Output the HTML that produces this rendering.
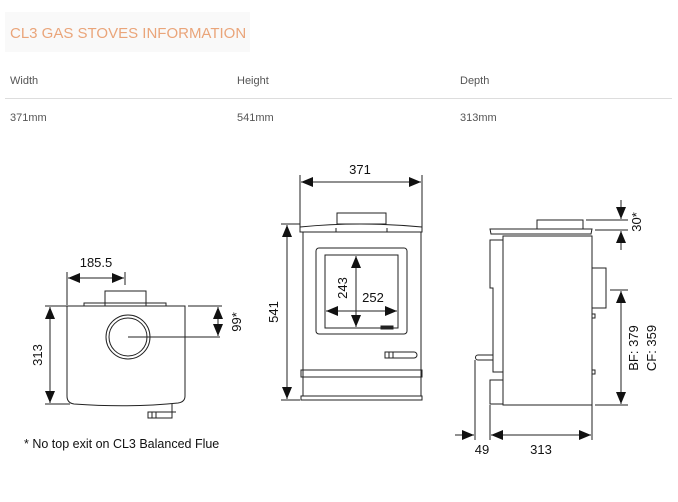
<!DOCTYPE html>
<html><head><meta charset="utf-8"><style>
body{margin:0;background:#fff;width:678px;height:502px;overflow:hidden;font-family:"Liberation Sans",sans-serif}
svg{position:absolute;left:0;top:0}
</style></head><body>
<svg width="678" height="502" viewBox="0 0 678 502" xmlns="http://www.w3.org/2000/svg">
<defs>
<marker id="a" viewBox="0 0 12 10" refX="12" refY="5" markerWidth="12" markerHeight="10" orient="auto-start-reverse" markerUnits="userSpaceOnUse"><path d="M0,0 L12,5 L0,10 z" fill="#111"/></marker>
</defs>
<rect x="5" y="12" width="245" height="40" fill="#f9f9f9"/>
<text x="10" y="38" font-size="15" fill="#eaa57a" font-family="Liberation Sans, sans-serif">CL3 GAS STOVES INFORMATION</text>
<g font-size="11" fill="#555">
<text x="10" y="84">Width</text><text x="237" y="84">Height</text><text x="460" y="84">Depth</text>
<text x="10" y="121">371mm</text><text x="237" y="121">541mm</text><text x="460" y="121">313mm</text>
</g>
<line x1="5" y1="98.5" x2="672" y2="98.5" stroke="#ddd"/>

<g fill="none" stroke="#222" stroke-width="1">
<line x1="67" y1="272" x2="67" y2="305"/><line x1="125" y1="272" x2="125" y2="285"/>
<line x1="68" y1="278" x2="124" y2="278" marker-start="url(#a)" marker-end="url(#a)"/>
<rect x="105" y="291" width="41" height="15"/>
<path d="M84 306 V303 H166 V306"/>
<path d="M67 306 H185 V396 Q185 402 178 403 Q130 408 74 404 Q67 403 67 396 Z"/>
<circle cx="128" cy="337" r="22"/><circle cx="128" cy="337" r="19"/>
<line x1="128" y1="337" x2="220" y2="337"/>
<line x1="188" y1="306" x2="222" y2="306"/>
<line x1="218" y1="307" x2="218" y2="336" marker-start="url(#a)" marker-end="url(#a)"/>
<line x1="45" y1="306" x2="67" y2="306"/><line x1="45" y1="404" x2="70" y2="404"/>
<line x1="50" y1="307" x2="50" y2="403" marker-start="url(#a)" marker-end="url(#a)"/>
<path d="M172 404 V418 H148 V412 H176"/><line x1="152" y1="412" x2="152" y2="418"/><line x1="156" y1="412" x2="156" y2="418"/>

<line x1="300" y1="175" x2="300" y2="232"/><line x1="422" y1="175" x2="422" y2="232"/>
<line x1="301" y1="182" x2="421" y2="182" marker-start="url(#a)" marker-end="url(#a)"/>
<rect x="337" y="213" width="49" height="11"/>
<path d="M300 232 V227 Q360 221 422 227 V232 Z"/>
<line x1="336" y1="228" x2="336" y2="232"/><line x1="387" y1="228" x2="387" y2="232"/>
<path d="M303 232 V396 H421 V232"/>
<rect x="316" y="248" width="91" height="86" rx="3"/>
<rect x="325" y="255" width="73" height="73"/>
<line x1="356" y1="256" x2="356" y2="327" marker-start="url(#a)" marker-end="url(#a)"/>
<line x1="326" y1="311" x2="397" y2="311" marker-start="url(#a)" marker-end="url(#a)"/>
<rect x="381" y="326" width="12" height="3" fill="#222"/>
<path d="M385 352 H414 A3 3 0 0 1 414 358 H385 Z"/><line x1="389" y1="352" x2="389" y2="358"/><line x1="393" y1="352" x2="393" y2="358"/>
<rect x="301" y="370" width="121" height="7"/>
<path d="M301 396 H422 V400 H301 Z"/>
<line x1="281" y1="224" x2="300" y2="224"/><line x1="281" y1="400" x2="300" y2="400"/>
<line x1="287" y1="225" x2="287" y2="399" marker-start="url(#a)" marker-end="url(#a)"/>

<rect x="537" y="220" width="46" height="9"/>
<path d="M490 229 H592 L591 234 H491 Z"/>
<rect x="503" y="236" width="89" height="169"/>
<path d="M503 240 H490 V288 H493 V372 H503"/>
<rect x="490" y="380" width="13" height="24"/>
<path d="M493 355 H478 A2.5 2.5 0 0 0 478 360 H493"/>
<rect x="592" y="268" width="14" height="40"/>
<path d="M592 314 h3 v4 h-3 M592 370 h3 v4 h-3"/>
<line x1="586" y1="220" x2="628" y2="220"/><line x1="595" y1="230" x2="628" y2="230"/>
<line x1="621" y1="200" x2="621" y2="219" marker-end="url(#a)"/>
<line x1="621" y1="250" x2="621" y2="231" marker-end="url(#a)"/>
<line x1="610" y1="290" x2="628" y2="290"/><line x1="595" y1="405" x2="628" y2="405"/>
<line x1="621" y1="291" x2="621" y2="404" marker-start="url(#a)" marker-end="url(#a)"/>
<line x1="475" y1="360" x2="475" y2="440"/><line x1="490" y1="405" x2="490" y2="440"/><line x1="592" y1="405" x2="592" y2="440"/>
<line x1="455" y1="435" x2="474" y2="435" marker-end="url(#a)"/>
<line x1="491" y1="435" x2="591" y2="435" marker-start="url(#a)" marker-end="url(#a)"/>
</g>

<g font-size="13" fill="#111" font-family="Liberation Sans, sans-serif" text-anchor="middle">
<text x="96" y="267">185.5</text>
<text transform="translate(241,322) rotate(-90)">99*</text>
<text transform="translate(42,355) rotate(-90)">313</text>
<text x="360" y="174">371</text>
<text transform="translate(347,288) rotate(-90)">243</text>
<text x="373" y="302">252</text>
<text transform="translate(278,312) rotate(-90)">541</text>
<text transform="translate(641,222) rotate(-90)">30*</text>
<text transform="translate(638,348) rotate(-90)">BF: 379</text>
<text transform="translate(656,348) rotate(-90)">CF: 359</text>
<text x="482" y="454">49</text>
<text x="541" y="454">313</text>
<text x="24" y="448" text-anchor="start" font-size="12.5">* No top exit on CL3 Balanced Flue</text>
</g>
</svg>
</body></html>
